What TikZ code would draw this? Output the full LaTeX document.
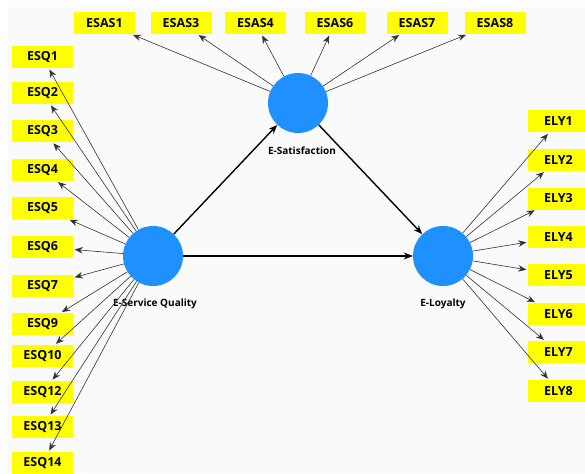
\documentclass[tikz,border=0pt]{standalone}
\usepackage{fontspec}
\setmainfont{Open Sans}[BoldFont={Open Sans Bold}]
\usetikzlibrary{arrows.meta}
\definecolor{lvblue}{HTML}{1E90FF}
\definecolor{itemyellow}{HTML}{FFFF00}
\definecolor{bggray}{HTML}{FAFAFA}

\begin{document}
\begin{tikzpicture}[x=1pt, y=-1pt, >=Stealth,
  latent/.style={circle, fill=lvblue, minimum size=60pt, inner sep=0pt},
  lvname/.style={font=\fontsize{10}{11}\selectfont\bfseries},
  item/.style={fill=itemyellow, minimum width=61pt, minimum height=22pt, inner sep=0pt, font=\fontsize{12.5}{13}\selectfont\bfseries},
  load/.style={draw=black!80, line width=0.6pt, shorten >=1.5pt, -{Stealth[length=8pt,width=6.5pt]}},
  struct/.style={line width=1.4pt, -{Stealth[length=9pt,width=7pt]}}]
\useasboundingbox (0,0) rectangle (585,473);
\fill[bggray] (8,7) rectangle (585,473);
% latent variables
\node[latent] (ESQ) at (153,256) {};
\node[latent] (ESAT) at (298,103) {};
\node[latent] (ELY) at (443,256) {};
\node[lvname] (ESQname) at (155,304) {E-Service Quality};
\node[lvname] (ESATname) at (302,151) {E-Satisfaction};
\node[lvname] (ELYname) at (443,304) {E-Loyalty};
% indicators
\foreach \i/\y in {1/57, 2/93, 3/131, 4/170, 5/208, 6/247, 7/286, 9/324, 10/356, 12/392, 13/427, 14/463}
  \node[item] (ESQ\i) at (42.5,\y) {ESQ\i};
\foreach \i/\x in {1/104.5, 3/181, 4/255.5, 6/335, 7/417, 8/495}
  \node[item] (ESAS\i) at (\x,23) {ESAS\i};
\foreach \i/\y in {1/121.5, 2/160, 3/198.5, 4/237, 5/275, 6/314, 7/352, 8/391}
  \node[item] (ELY\i) at (558.5,\y) {ELY\i};
% loadings
\foreach \i in {1,2,3,4,5,6,7,9,10,12,13,14} \draw[load] (ESQ) -- (ESQ\i);
\foreach \i in {1,3,4,6,7,8} \draw[load] (ESAT) -- (ESAS\i);
\foreach \i in {1,...,8} \draw[load] (ELY) -- (ELY\i);
% structural paths
\draw[struct] (ESQ) -- (ESAT);
\draw[struct] (ESAT) -- (ELY);
\draw[struct] (ESQ) -- (ELY);
\end{tikzpicture}
\end{document}
